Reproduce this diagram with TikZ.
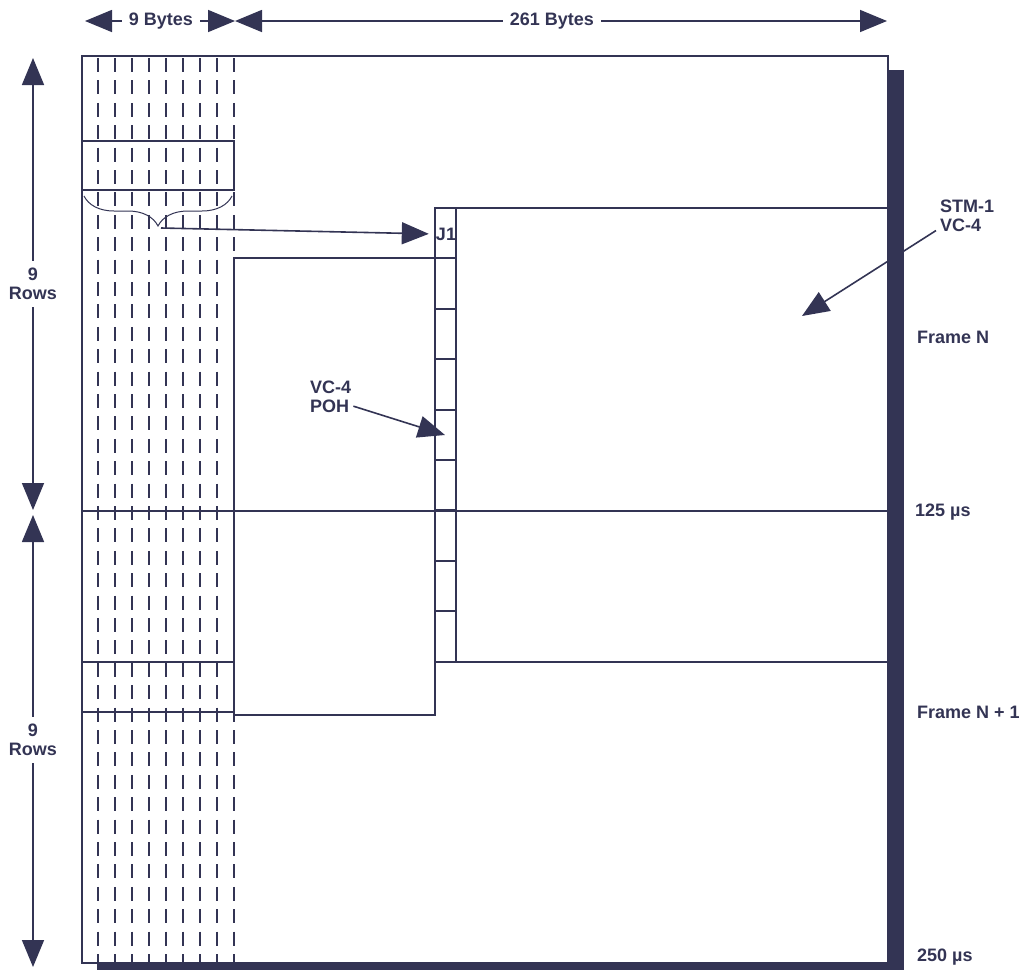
\documentclass[tikz,border=0pt]{standalone}
\usepackage{fontspec}
\setmainfont{Liberation Sans}
\usepackage{xcolor}
\usetikzlibrary{arrows.meta, decorations.pathreplacing}
\definecolor{framenavy}{RGB}{51,52,84}

\begin{document}
\begin{tikzpicture}[x=1pt, y=-1pt,
  lbl/.style={font=\fontsize{18}{19}\selectfont\bfseries, text=framenavy, inner sep=2pt},
  dimlbl/.style={lbl, inner sep=7pt, align=center},
  dimarrow/.style={draw=framenavy, line width=1.6pt, -{Triangle[length=27pt, width=22pt]}},
  gridline/.style={draw=framenavy, line width=2pt},
  dashcol/.style={draw=framenavy, line width=1.8pt, dash pattern=on 14pt off 8.4pt}]
\useasboundingbox (0,0) rectangle (1029,970);
% Shadow of the frame
\fill[framenavy] (888,70) rectangle (904,970);
\fill[framenavy] (97,963) rectangle (904,970);
% Section overhead columns (9 bytes)
\foreach \x in {98,115,132,149,166,183,200,217,234} {
  \draw[dashcol] (\x,58) -- (\x,963);
}
% Frame outline and frame boundary
\draw[framenavy, line width=2.6pt, fill=none] (82,56) rectangle (888,963);
\draw[gridline] (82,511) -- (888,511);
% Pointer rows
\draw[gridline] (82,141) rectangle (234,190);
\draw[gridline] (82,662) rectangle (234,712);
% VC-4 with path overhead column
\draw[gridline] (435,208) rectangle (456,662);
\foreach \i in {1,...,8} {
  \draw[gridline] (435,{round(208+50.4*\i)}) -- (456,{round(208+50.4*\i)});
}
\draw[gridline] (456,208) -- (888,208);
\draw[gridline] (456,662) -- (888,662);
\draw[gridline] (435,258) -- (234,258) -- (234,715) -- (435,715) -- (435,662);
% Brace over the pointer bytes
\draw[framenavy, line width=1pt, decorate, decoration={brace, mirror, amplitude=30pt}]
  (84,196) -- (232,196);
\coordinate (bracetip) at (161,228);
\node[lbl, inner sep=1pt] (jone) at (446,234) {J1};
\draw[dimarrow, shorten >=6pt] (bracetip) -- (jone.west);
% Byte counts
\node[dimlbl] (nbytes) at (161,21) {9 Bytes};
\node[dimlbl] (pbytes) at (552,21) {261 Bytes};
\coordinate (sohleft) at (85,21);
\coordinate (sohright) at (235,21);
\coordinate (payright) at (887,21);
\draw[dimarrow] (nbytes) -- (sohleft);
\draw[dimarrow] (nbytes) -- (sohright);
\draw[dimarrow] (pbytes) -- (sohright);
\draw[dimarrow] (pbytes) -- (payright);
% Row counts
\node[dimlbl] (rowsa) at (33,284) {9\\Rows};
\node[dimlbl] (rowsb) at (33,740) {9\\Rows};
\coordinate (rowtopa) at (33,58);
\coordinate (rowbota) at (33,510);
\coordinate (rowtopb) at (33,515);
\coordinate (rowbotb) at (33,967);
\draw[dimarrow] (rowsa) -- (rowtopa);
\draw[dimarrow] (rowsa) -- (rowbota);
\draw[dimarrow] (rowsb) -- (rowtopb);
\draw[dimarrow] (rowsb) -- (rowbotb);
% Callouts
\node[lbl, anchor=west, align=left] (vcpoh) at (308,397) {VC-4\\POH};
\coordinate (pohtip) at (445,435);
\draw[dimarrow] (vcpoh.-22) -- (pohtip);
\node[lbl, anchor=west, align=left, inner sep=4pt] (stmvc) at (936,216) {STM-1\\VC-4};
\coordinate (stmtip) at (802,316);
\draw[dimarrow] (stmvc.205) -- (stmtip);
% Timing labels
\node[lbl, anchor=west] (framen) at (915,337) {Frame N};
\node[lbl, anchor=west] (tmid) at (913,512) {125 µs};
\node[lbl, anchor=west] (framenb) at (915,712) {Frame N + 1};
\node[lbl, anchor=west] (tend) at (915,957) {250 µs};
\end{tikzpicture}
\end{document}
